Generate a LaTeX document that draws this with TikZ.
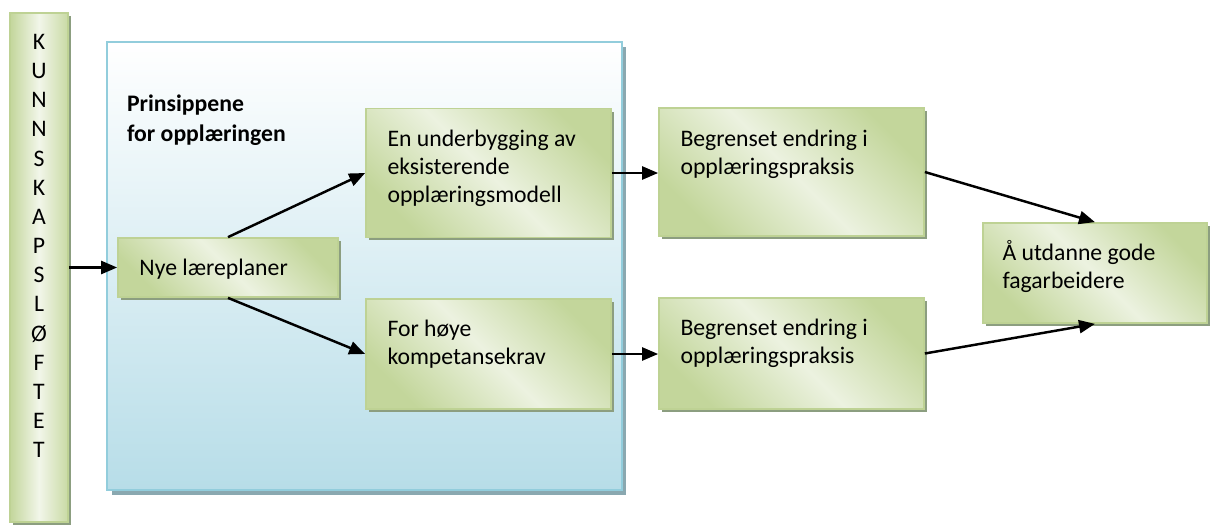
\documentclass[tikz,border=0pt]{standalone}
\usepackage{fontspec}
\setmainfont{Carlito}
\usetikzlibrary{arrows.meta,shadows}
\definecolor{grndark}{RGB}{195,214,155}
\definecolor{grnlight}{RGB}{236,242,224}
\definecolor{grnedge}{RGB}{190,210,148}
\definecolor{grnshadow}{RGB}{140,158,128}
\definecolor{bluebottom}{RGB}{183,221,232}
\definecolor{blueedge}{RGB}{146,205,220}
\definecolor{blueshadow}{RGB}{138,168,176}

\begin{document}
\begin{tikzpicture}[x=0.02cm,y=-0.02cm,
    every node/.style={font=\fontsize{13.5}{16}\selectfont},
    greenbox/.style={draw=grnedge,line width=1pt,inner sep=0pt,
      left color=grndark,right color=grndark,middle color=grnlight,shading angle=-45,
      drop shadow={shadow xshift=0.06cm,shadow yshift=-0.06cm,fill=grnshadow,opacity=1}},
    barbox/.style={greenbox,left color=grndark,right color=grndark!85!grnlight,
      middle color=grnlight!70!white,shading angle=90},
    bluebox/.style={draw=blueedge,line width=1.5pt,inner sep=0pt,
      top color=white,bottom color=bluebottom,
      drop shadow={shadow xshift=0.09cm,shadow yshift=-0.1cm,fill=blueshadow,opacity=1}},
    boxtext/.style={anchor=north west,inner sep=0pt,align=left},
    flow/.style={-{Triangle[length=0.32cm,width=0.26cm]},line width=1.4pt},
  ]
  \useasboundingbox (0,0) rectangle (1210,524);
  \node[barbox,minimum width=1.16cm,minimum height=10.18cm] (bar) at (39,267.5) {};
  \node[bluebox,minimum width=10.3cm,minimum height=8.96cm] (frame) at (364.5,266) {};
  \node[greenbox,minimum width=4.4cm,minimum height=1.18cm] (nye) at (228,267.5) {};
  \node[greenbox,minimum width=4.9cm,minimum height=2.58cm] (underbygging) at (488.5,173) {};
  \node[greenbox,minimum width=4.9cm,minimum height=2.2cm] (kompetanse) at (488.5,354) {};
  \node[greenbox,minimum width=5.3cm,minimum height=2.56cm] (endringa) at (791.5,172) {};
  \node[greenbox,minimum width=5.3cm,minimum height=2.22cm] (endringb) at (791.5,353.5) {};
  \node[greenbox,minimum width=4.48cm,minimum height=2cm] (utdanne) at (1095,273) {};

  \node[anchor=north,inner sep=0pt,align=center,font=\fontsize{13.5}{16.6}\selectfont] (letters)
    at ([yshift=-0.33cm]bar.north) {\strut K\\U\\N\\N\\S\\K\\A\\P\\S\\L\\Ø\\F\\T\\E\\T};
  \node[boxtext,font=\fontsize{13.5}{17}\selectfont\bfseries] (prinsipp) at ([shift={(21,50)}]frame.north west)
    {\strut Prinsippene\\for opplæringen};
  \node[boxtext] (nyetxt) at ([shift={(22,18)}]nye.north west) {\strut Nye læreplaner};
  \node[boxtext] (underbyggingtxt) at ([shift={(22,19)}]underbygging.north west)
    {\strut En underbygging av\\eksisterende\\opplæringsmodell};
  \node[boxtext] (kompetansetxt) at ([shift={(22,18)}]kompetanse.north west)
    {\strut For høye\\kompetansekrav};
  \node[boxtext] (endringatxt) at ([shift={(22,19)}]endringa.north west)
    {\strut Begrenset endring i\\opplæringspraksis};
  \node[boxtext] (endringbtxt) at ([shift={(22,18)}]endringb.north west)
    {\strut Begrenset endring i\\opplæringspraksis};
  \node[boxtext] (utdannetxt) at ([shift={(20,18)}]utdanne.north west)
    {\strut Å utdanne gode\\fagarbeidere};

  \draw[flow] (bar.east) -- (nye.west);
  \draw[flow] (nye.north) -- (underbygging.west);
  \draw[flow] (nye.south) -- (kompetanse.west);
  \draw[flow] (underbygging.east) -- (underbygging.east -| endringa.west);
  \draw[flow] (kompetanse.east) -- (kompetanse.east -| endringb.west);
  \draw[flow] (endringa.east) -- (utdanne.north);
  \draw[flow] (endringb.east) -- (utdanne.south);
\end{tikzpicture}
\end{document}
